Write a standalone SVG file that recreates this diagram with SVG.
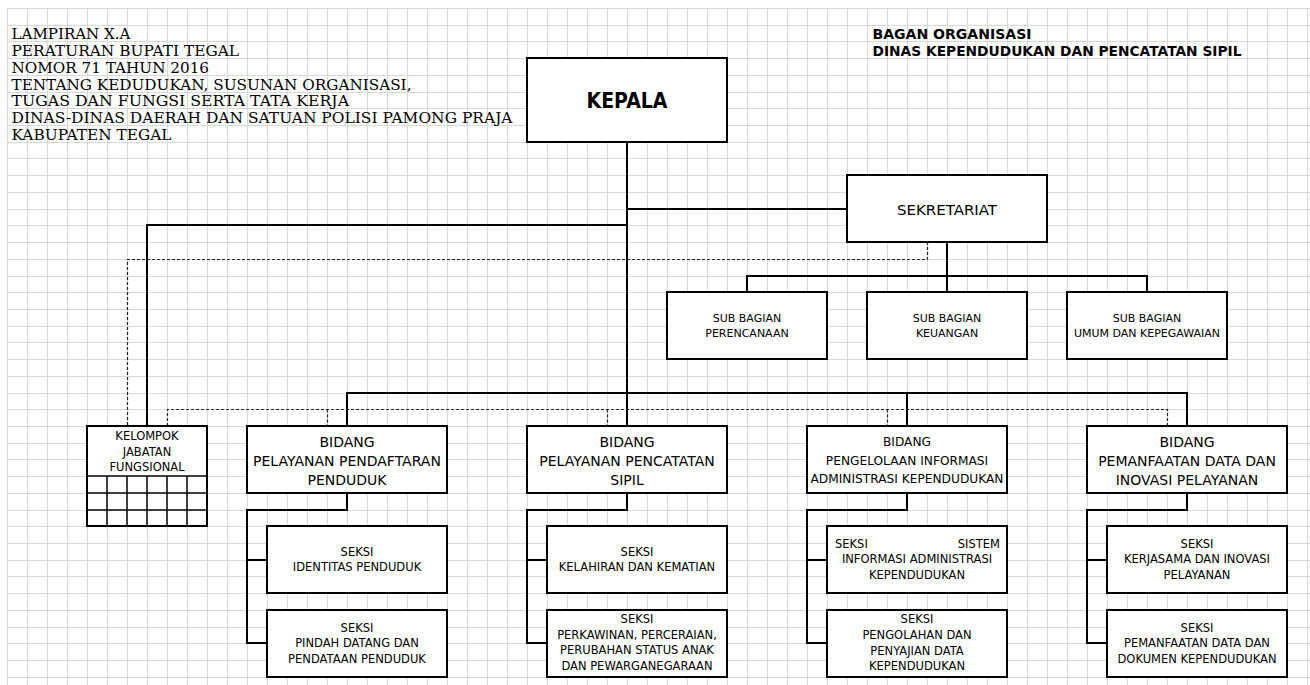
<svg xmlns="http://www.w3.org/2000/svg" width="1310" height="685" viewBox="0 0 1310 685">
<style>
.grid{fill:none;stroke:#d9d9d9;stroke-width:1}
.box{fill:#fff;stroke:#000;stroke-width:2}
.conn{fill:none;stroke:#000;stroke-width:2}
.dash{fill:none;stroke:#222;stroke-width:1.2;stroke-dasharray:3 2}
.inner{fill:none;stroke:#000;stroke-width:1.5}
.t{font-family:"DejaVu Sans","Liberation Sans",sans-serif;fill:#000;text-anchor:middle}
.ser{font-family:"DejaVu Serif","Liberation Serif",serif;font-size:14.5px;fill:#000}
.hb{font-family:"DejaVu Sans","Liberation Sans",sans-serif;font-size:13.5px;font-weight:bold;fill:#000}
.bd{font-size:14px}
.bd3{font-size:12.2px}
.sk{font-size:11.5px}
.sb{font-size:11px}
</style>
<rect x="0" y="0" width="1310" height="685" fill="#fff"/>
<g id="grid">
<path class="grid" d="M7.5 8V685M27.5 8V685M47.5 8V685M67.5 8V685M87.5 8V685M107.5 8V685M127.5 8V685M147.5 8V685M167.5 8V685M187.5 8V685M207.5 8V685M227.5 8V685M247.5 8V685M267.5 8V685M287.5 8V685M307.5 8V685M327.5 8V685M347.5 8V685M367.5 8V685M387.5 8V685M407.5 8V685M427.5 8V685M447.5 8V685M467.5 8V685M487.5 8V685M507.5 8V685M527.5 8V685M547.5 8V685M567.5 8V685M587.5 8V685M607.5 8V685M627.5 8V685M647.5 8V685M667.5 8V685M687.5 8V685M707.5 8V685M727.5 8V685M747.5 8V685M767.5 8V685M787.5 8V685M807.5 8V685M827.5 8V685M847.5 8V685M867.5 8V685M887.5 8V685M907.5 8V685M927.5 8V685M947.5 8V685M967.5 8V685M987.5 8V685M1007.5 8V685M1027.5 8V685M1047.5 8V685M1067.5 8V685M1087.5 8V685M1107.5 8V685M1127.5 8V685M1147.5 8V685M1167.5 8V685M1187.5 8V685M1207.5 8V685M1227.5 8V685M1247.5 8V685M1267.5 8V685M1287.5 8V685M1307.5 8V685"/>
<path class="grid" d="M7 8.5H1310M7 25.5H1310M7 41.5H1310M7 58.5H1310M7 75.5H1310M7 92.5H1310M7 108.5H1310M7 125.5H1310M7 142.5H1310M7 158.5H1310M7 175.5H1310M7 192.5H1310M7 209.5H1310M7 225.5H1310M7 242.5H1310M7 259.5H1310M7 276.5H1310M7 292.5H1310M7 309.5H1310M7 326.5H1310M7 342.5H1310M7 359.5H1310M7 376.5H1310M7 393.5H1310M7 409.5H1310M7 426.5H1310M7 443.5H1310M7 459.5H1310M7 476.5H1310M7 493.5H1310M7 510.5H1310M7 526.5H1310M7 543.5H1310M7 560.5H1310M7 576.5H1310M7 593.5H1310M7 610.5H1310M7 627.5H1310M7 643.5H1310M7 660.5H1310M7 677.5H1310"/>
</g>
<g id="title-left">
<text class="ser" x="11.5" y="38.5" textLength="119" lengthAdjust="spacingAndGlyphs">LAMPIRAN X.A</text>
<text class="ser" x="11.5" y="55.5" textLength="227.5" lengthAdjust="spacingAndGlyphs">PERATURAN BUPATI TEGAL</text>
<text class="ser" x="11.5" y="72.5" textLength="197.5" lengthAdjust="spacingAndGlyphs">NOMOR 71 TAHUN 2016</text>
<text class="ser" x="11.5" y="89.5" textLength="400" lengthAdjust="spacingAndGlyphs">TENTANG KEDUDUKAN, SUSUNAN ORGANISASI,</text>
<text class="ser" x="11.5" y="105.5" textLength="337.5" lengthAdjust="spacingAndGlyphs">TUGAS DAN FUNGSI SERTA TATA KERJA</text>
<text class="ser" x="11.5" y="122.5" textLength="501" lengthAdjust="spacingAndGlyphs">DINAS-DINAS DAERAH DAN SATUAN POLISI PAMONG PRAJA</text>
<text class="ser" x="11.5" y="139.5" textLength="160" lengthAdjust="spacingAndGlyphs">KABUPATEN TEGAL</text>
</g>
<g id="title-right">
<text class="hb" x="872.5" y="39.3" textLength="159" lengthAdjust="spacingAndGlyphs">BAGAN ORGANISASI</text>
<text class="hb" x="872.5" y="56" textLength="369" lengthAdjust="spacingAndGlyphs">DINAS KEPENDUDUKAN DAN PENCATATAN SIPIL</text>
</g>
<g id="connectors">
<path class="conn" d="M627 142V426"/>
<path class="conn" d="M627 209H847"/>
<path class="conn" d="M627 225H147V426"/>
<path class="conn" d="M947 242V276"/>
<path class="conn" d="M747 292V276H1147V292"/>
<path class="conn" d="M947 276V292"/>
<path class="conn" d="M347 426V393H1187V426"/>
<path class="conn" d="M907 393V426"/>
<path class="conn" d="M347 493V510H247V643H267M247 560H267"/>
<path class="conn" d="M627 493V510H527V643H547M527 560H547"/>
<path class="conn" d="M907 493V510H807V643H827M807 560H827"/>
<path class="conn" d="M1187 493V510H1087V643H1107M1087 560H1107"/>
<path class="dash" d="M927.5 242V259.5H127.5V426"/>
<path class="dash" d="M167.5 426V409.5H1167.5V426"/>
<path class="dash" d="M327.5 409.5V426M607.5 409.5V426M887.5 409.5V426"/>
</g>
<g id="kepala">
<rect class="box" x="527" y="58" width="200" height="84"/>
<text class="t" x="627" y="108" font-size="21" font-weight="bold" textLength="81" lengthAdjust="spacingAndGlyphs">KEPALA</text>
</g>
<g id="sekretariat">
<rect class="box" x="847" y="175" width="200" height="67"/>
<text class="t" x="947" y="215" font-size="14.5" textLength="100" lengthAdjust="spacingAndGlyphs">SEKRETARIAT</text>
</g>
<g id="sub-perencanaan">
<rect class="box" x="667" y="292" width="160" height="67"/>
<text class="t sb" x="747" y="322">SUB BAGIAN</text>
<text class="t sb" x="747" y="337">PERENCANAAN</text>
</g>
<g id="sub-keuangan">
<rect class="box" x="867" y="292" width="160" height="67"/>
<text class="t sb" x="947" y="322">SUB BAGIAN</text>
<text class="t sb" x="947" y="337">KEUANGAN</text>
</g>
<g id="sub-umum">
<rect class="box" x="1067" y="292" width="160" height="67"/>
<text class="t sb" x="1147" y="322">SUB BAGIAN</text>
<text class="t sb" x="1147" y="337">UMUM DAN KEPEGAWAIAN</text>
</g>
<g id="kelompok">
<rect class="box" x="87" y="426" width="120" height="100"/>
<path class="inner" d="M87 476H207M87 493H207M87 510H207M107 476V526M127 476V526M147 476V526M167 476V526M187 476V526"/>
<text class="t sk" x="147" y="440">KELOMPOK</text>
<text class="t sk" x="147" y="456">JABATAN</text>
<text class="t sk" x="147" y="471">FUNGSIONAL</text>
</g>
<g id="bidang-1">
<rect class="box" x="247" y="426" width="200" height="67"/>
<text class="t bd" x="347" y="446.5">BIDANG</text>
<text class="t bd" x="347" y="465.5">PELAYANAN PENDAFTARAN</text>
<text class="t bd" x="347" y="485">PENDUDUK</text>
</g>
<g id="bidang-2">
<rect class="box" x="527" y="426" width="200" height="67"/>
<text class="t bd" x="627" y="446.5">BIDANG</text>
<text class="t bd" x="627" y="465.5">PELAYANAN PENCATATAN</text>
<text class="t bd" x="627" y="485">SIPIL</text>
</g>
<g id="bidang-3">
<rect class="box" x="807" y="426" width="200" height="67"/>
<text class="t bd3" x="907" y="446">BIDANG</text>
<text class="t bd3" x="907" y="465">PENGELOLAAN INFORMASI</text>
<text class="t bd3" x="907" y="483">ADMINISTRASI KEPENDUDUKAN</text>
</g>
<g id="bidang-4">
<rect class="box" x="1087" y="426" width="200" height="67"/>
<text class="t bd" x="1187" y="446.5">BIDANG</text>
<text class="t bd" x="1187" y="465.5">PEMANFAATAN DATA DAN</text>
<text class="t bd" x="1187" y="485">INOVASI PELAYANAN</text>
</g>
<g id="seksi-identitas">
<rect class="box" x="267" y="526" width="180" height="67"/>
<text class="t sk" x="357" y="556">SEKSI</text>
<text class="t sk" x="357" y="571">IDENTITAS PENDUDUK</text>
</g>
<g id="seksi-pindah">
<rect class="box" x="267" y="610" width="180" height="67"/>
<text class="t sk" x="357" y="632">SEKSI</text>
<text class="t sk" x="357" y="647">PINDAH DATANG DAN</text>
<text class="t sk" x="357" y="663">PENDATAAN PENDUDUK</text>
</g>
<g id="seksi-kelahiran">
<rect class="box" x="547" y="526" width="180" height="67"/>
<text class="t sk" x="637" y="556">SEKSI</text>
<text class="t sk" x="637" y="571">KELAHIRAN DAN KEMATIAN</text>
</g>
<g id="seksi-perkawinan">
<rect class="box" x="547" y="610" width="180" height="67"/>
<text class="t sk" x="637" y="623">SEKSI</text>
<text class="t sk" x="637" y="638.5">PERKAWINAN, PERCERAIAN,</text>
<text class="t sk" x="637" y="654">PERUBAHAN STATUS ANAK</text>
<text class="t sk" x="637" y="669.5">DAN PEWARGANEGARAAN</text>
</g>
<g id="seksi-siak">
<rect class="box" x="827" y="526" width="180" height="67"/>
<text class="t sk" x="835" y="547.5" text-anchor="start" style="text-anchor:start">SEKSI</text>
<text class="t sk" x="1000" y="547.5" style="text-anchor:end">SISTEM</text>
<text class="t sk" x="917" y="562.5">INFORMASI ADMINISTRASI</text>
<text class="t sk" x="917" y="578.5">KEPENDUDUKAN</text>
</g>
<g id="seksi-pengolahan">
<rect class="box" x="827" y="610" width="180" height="67"/>
<text class="t sk" x="917" y="623">SEKSI</text>
<text class="t sk" x="917" y="639">PENGOLAHAN DAN</text>
<text class="t sk" x="917" y="654.5">PENYAJIAN DATA</text>
<text class="t sk" x="917" y="669.5">KEPENDUDUKAN</text>
</g>
<g id="seksi-kerjasama">
<rect class="box" x="1107" y="526" width="180" height="67"/>
<text class="t sk" x="1197" y="547.5">SEKSI</text>
<text class="t sk" x="1197" y="562.5">KERJASAMA DAN INOVASI</text>
<text class="t sk" x="1197" y="578.5">PELAYANAN</text>
</g>
<g id="seksi-pemanfaatan">
<rect class="box" x="1107" y="610" width="180" height="67"/>
<text class="t sk" x="1197" y="632">SEKSI</text>
<text class="t sk" x="1197" y="647">PEMANFAATAN DATA DAN</text>
<text class="t sk" x="1197" y="663">DOKUMEN KEPENDUDUKAN</text>
</g>
</svg>
